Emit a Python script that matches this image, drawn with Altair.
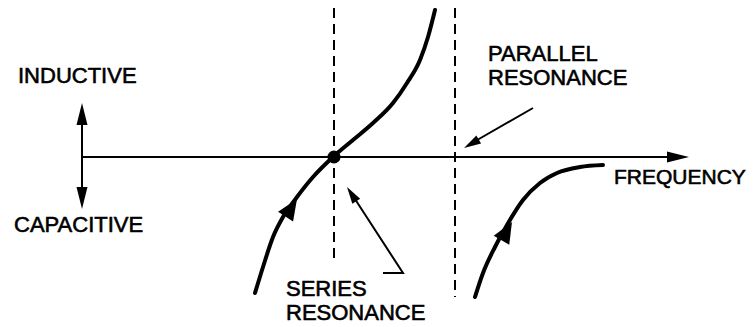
import math
import altair as alt
import pandas as pd

# ---- data (diagram units: x to the right, y downward, same scale as the picture) ----
# reactance branch through series resonance
curve1_x = [255, 263, 273, 283, 297, 313, 333, 353, 373, 393, 407, 420, 428, 435]
curve1_y = [293, 267, 237, 217, 197, 177, 157, 140, 123, 103, 83, 60, 37, 10]
# capacitive branch above parallel resonance
curve2_x = [475, 483, 495, 507, 523, 540, 557, 580, 603]
curve2_y = [297, 273, 247, 225, 200, 183, 173, 167, 165]

# frequency axis and reactance (double) arrow
axis_x = [82, 676]
axis_y = [157, 157]
react_x = [82, 82]
react_y = [115, 198]

# resonance markers (dashed verticals)
series_f = 334
parallel_f = 455
series_dash_y = [8, 260]
parallel_dash_y = [8, 297]
series_point = (334, 157)

# leader lines
series_leader_x = [383, 403, 353]
series_leader_y = [273, 273, 196]
parallel_leader_x = [533, 472]
parallel_leader_y = [108, 143]

# arrowheads: tip x, tip y, angle (deg, clockwise from up)
axis_heads = [(689, 157, 90), (82, 103, 0), (82, 209, 180)]
curve_heads = [(297, 199, 33), (512, 222, 30)]
leader_heads = [(347, 187, 327), (464, 148, 240)]

labels = ["INDUCTIVE", "CAPACITIVE", "SERIES", "RESONANCE", "PARALLEL", "RESONANCE", "FREQUENCY"]
label_x = [18, 14, 286, 286, 488, 488, 614]
label_y = [76, 225, 289, 313, 54, 78, 178]
label_size = [22, 22, 22, 22, 22, 22, 21]

# ---- chart ----
X = lambda: alt.X("x:Q", scale=alt.Scale(domain=[8, 747], nice=False, zero=False), axis=None)
Y = lambda: alt.Y("y:Q", scale=alt.Scale(domain=[8, 327], nice=False, zero=False, reverse=True), axis=None)


def poly(segs):
    rows = []
    for s, (xs, ys) in enumerate(segs):
        for i, (a, b) in enumerate(zip(xs, ys)):
            rows.append({"seg": s, "o": i, "x": a, "y": b})
    return pd.DataFrame(rows)


curves = alt.Chart(poly([(curve1_x, curve1_y), (curve2_x, curve2_y)])).mark_line(
    color="black", strokeWidth=4, strokeCap="round", interpolate="monotone"
).encode(x=X(), y=Y(), detail="seg:N", order="o:Q")

axes = alt.Chart(poly([(axis_x, axis_y), (react_x, react_y)])).mark_line(
    color="black", strokeWidth=2
).encode(x=X(), y=Y(), detail="seg:N", order="o:Q")

dashes = alt.Chart(poly([([series_f, series_f], series_dash_y),
                         ([parallel_f, parallel_f], parallel_dash_y)])).mark_line(
    color="black", strokeWidth=2, strokeDash=[10, 6]
).encode(x=X(), y=Y(), detail="seg:N", order="o:Q")

leaders = alt.Chart(poly([(series_leader_x, series_leader_y),
                          (parallel_leader_x, parallel_leader_y)])).mark_line(
    color="black", strokeWidth=2
).encode(x=X(), y=Y(), detail="seg:N", order="o:Q")

dot = alt.Chart(pd.DataFrame({"x": [series_point[0]], "y": [series_point[1]]})).mark_point(
    shape="circle", filled=True, color="black", size=170, opacity=1
).encode(x=X(), y=Y())


def heads(items, path, size):
    df = pd.DataFrame(items, columns=["x", "y", "a"])
    return alt.Chart(df).mark_point(
        shape=path, filled=True, color="black", size=size, opacity=1, strokeWidth=0
    ).encode(x=X(), y=Y(), angle=alt.Angle("a:Q", scale=None))


axis_arrows = heads(axis_heads, "M0,0L0.5,2L-0.5,2Z", 484)
curve_arrows = heads(curve_heads, "M0,0L0.85,2L-0.85,2Z", 441)
leader_arrows = heads(leader_heads, "M0,0L0.55,2L-0.55,2Z", 289)

text = alt.Chart(pd.DataFrame({"t": labels, "x": label_x, "y": label_y, "s": label_size})).mark_text(
    align="left", baseline="middle", font="Liberation Sans", color="black",
    stroke="black", strokeWidth=0.6
).encode(x=X(), y=Y(), text="t:N", size=alt.Size("s:Q", scale=None))

chart = alt.layer(dashes, axes, leaders, curves, dot, axis_arrows, curve_arrows,
                  leader_arrows, text).properties(
    width=739, height=319, padding=0, autosize=alt.AutoSizeParams(type="none"),
    background="white"
).configure_view(stroke=None)

chart.save("out.html", embed_options={"renderer": "svg", "actions": False})
